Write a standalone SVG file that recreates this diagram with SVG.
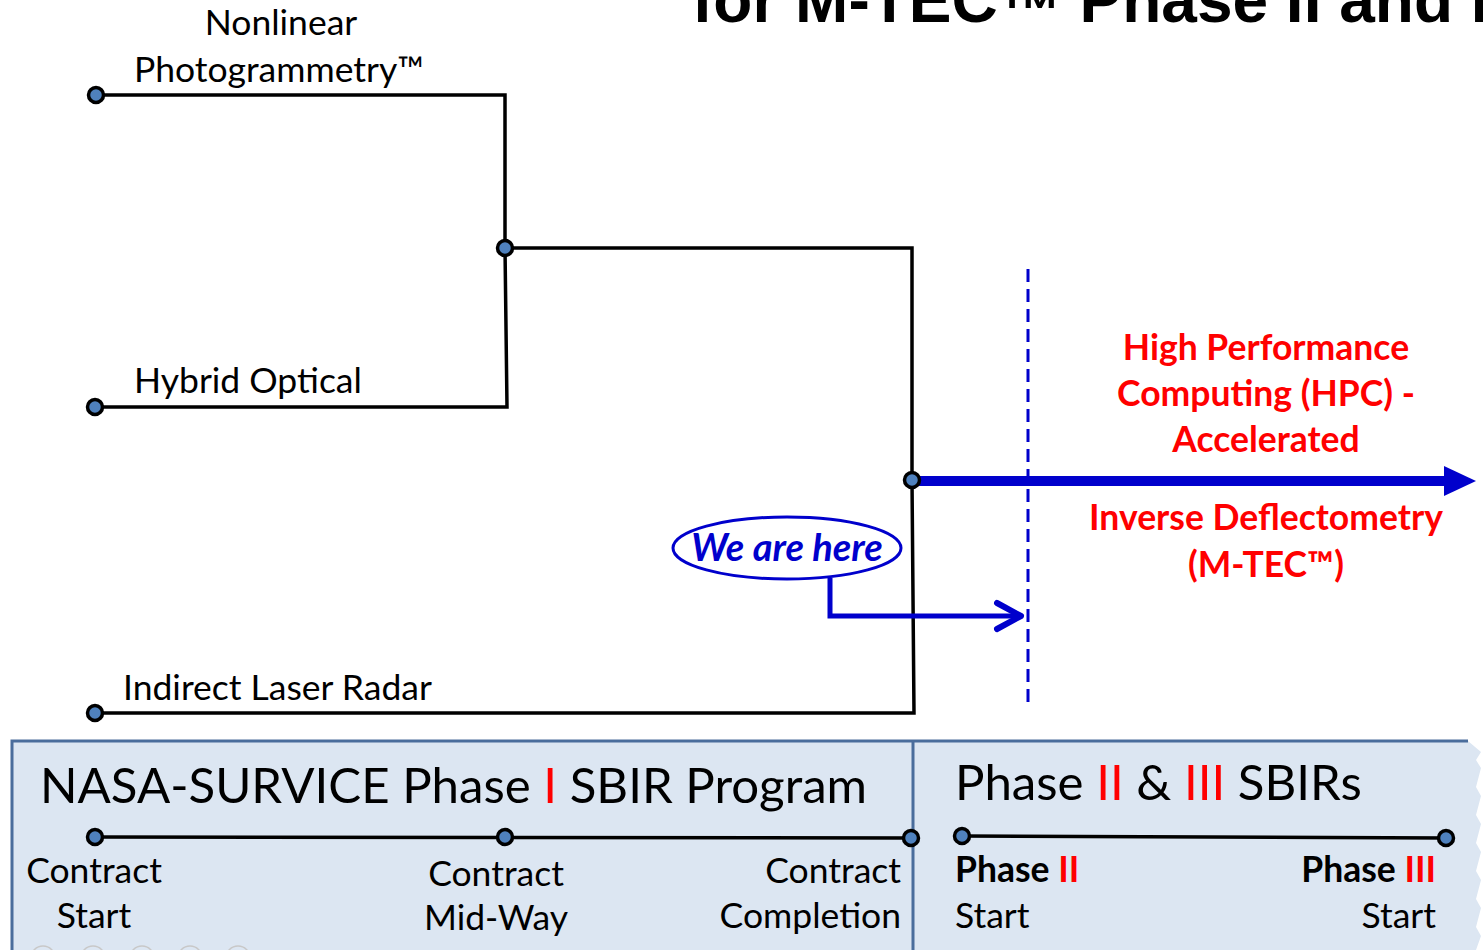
<svg xmlns="http://www.w3.org/2000/svg" width="1483" height="950" viewBox="0 0 1483 950">
<style>
.lbl{font-family:Lato,"Open Sans","Liberation Sans",sans-serif;font-size:35.5px;fill:#000}
.big{font-family:Lato,"Open Sans","Liberation Sans",sans-serif;font-size:49.2px;fill:#000}
.red{font-family:Lato,"Open Sans","Liberation Sans",sans-serif;font-size:35.5px;font-weight:bold;fill:#ff0000}
.rd{fill:#ff0000}
.bold{font-weight:bold}
.wire{fill:none;stroke:#000;stroke-width:3.5;stroke-linejoin:miter}
.dot{fill:#4f81bd;stroke:#000;stroke-width:3.5}
.blue{fill:none;stroke:#0000cc}
</style>
<defs>
<marker id="tri" markerUnits="userSpaceOnUse" viewBox="0 0 32 30" refX="2" refY="15" markerWidth="32" markerHeight="30" orient="auto">
<path d="M0,0 L32,15 L0,30 Z" fill="#0000cc"/>
</marker>
</defs>
<rect width="1483" height="950" fill="#fff"/>
<text x="692" y="22" font-family="'Liberation Sans',Arial,sans-serif" font-weight="bold" font-size="64" fill="#000">for M-TEC<tspan dy="10">™</tspan><tspan dy="-10"> Phase II and I</tspan></text>

<g id="connectors">
<path class="wire" d="M96,95 H505 V248 M505,248 L507,407 H95"/>
<path class="wire" d="M505,248 H912 V480 M912,480 L914,713 H95"/>
<line x1="912" y1="481" x2="1446" y2="481" stroke="#0000cc" stroke-width="10" marker-end="url(#tri)"/>
<line x1="1028" y1="269" x2="1028" y2="708" stroke="#0000cc" stroke-width="3" stroke-dasharray="13,7"/>
<path class="blue" stroke-width="5" d="M830,578 V616 H1020"/>
<path class="blue" stroke-width="6" stroke-linecap="round" stroke-linejoin="round" d="M997,603 L1021,616 L997,629"/>
</g>

<g id="node-nonlinear">
<circle class="dot" cx="96" cy="95" r="7.5"/>
<text class="lbl" x="281" y="35" text-anchor="middle">Nonlinear</text>
<text class="lbl" x="134" y="82">Photogrammetry™</text>
</g>
<g id="node-hybrid">
<circle class="dot" cx="95" cy="407" r="7.5"/>
<text class="lbl" x="134" y="393">Hybrid Optical</text>
</g>
<g id="node-laser">
<circle class="dot" cx="95" cy="713" r="7.5"/>
<text class="lbl" x="123" y="700">Indirect Laser Radar</text>
</g>
<g id="node-merge1">
<circle class="dot" cx="505" cy="248" r="7.5"/>
</g>
<g id="node-merge2">
<circle class="dot" cx="912" cy="480" r="7.5"/>
</g>
<g id="node-hpc">
<text class="red" x="1266" y="360" text-anchor="middle">High Performance</text>
<text class="red" x="1266" y="406" text-anchor="middle">Computing (HPC) -</text>
<text class="red" x="1266" y="452" text-anchor="middle">Accelerated</text>
<text class="red" x="1266" y="530" text-anchor="middle">Inverse Deflectometry</text>
<text class="red" x="1266" y="577" text-anchor="middle">(M-TEC™)</text>
</g>
<g id="node-we-are-here">
<ellipse cx="787" cy="548" rx="114" ry="31" fill="#fff" stroke="#0000cc" stroke-width="3"/>
<text x="787" y="561" text-anchor="middle" font-family="Lato,'Open Sans',sans-serif" font-size="38" font-weight="bold" font-style="italic" fill="#0000cc">We are here</text>
</g>

<g id="timeline-box">
<path d="M12,741 H1468 L1481,752 L1476,760 L1481,768 L1476,787 L1481,796 L1476,815 L1481,824 L1476,843 L1481,852 L1476,871 L1481,880 L1476,899 L1481,908 L1476,927 L1481,936 L1476,950 H12 Z" fill="#dce6f2"/>
<path d="M12,950 V741 H1468" fill="none" stroke="#4a6d9c" stroke-width="3"/>
<line x1="913" y1="741" x2="913" y2="950" stroke="#4a6d9c" stroke-width="3"/>
<g fill="none" stroke="#c8c8c8" stroke-width="1.5">
<circle cx="43" cy="958" r="12"/><circle cx="93" cy="958" r="12"/><circle cx="142" cy="958" r="12"/><circle cx="190" cy="958" r="12"/><circle cx="238" cy="958" r="12"/>
</g>
</g>
<g id="phase1">
<text class="big" x="40" y="803">NASA-SURVICE Phase <tspan class="rd">I</tspan> SBIR Program</text>
<line x1="95" y1="837" x2="911" y2="838" stroke="#000" stroke-width="3.5"/>
<circle class="dot" cx="95" cy="837" r="7.5"/>
<circle class="dot" cx="505" cy="837" r="7.5"/>
<circle class="dot" cx="911" cy="838" r="7.5"/>
<text class="lbl" x="94" y="883" text-anchor="middle">Contract</text>
<text class="lbl" x="94" y="928" text-anchor="middle">Start</text>
<text class="lbl" x="496" y="886" text-anchor="middle">Contract</text>
<text class="lbl" x="496" y="930" text-anchor="middle">Mid-Way</text>
<text class="lbl" x="901" y="883" text-anchor="end">Contract</text>
<text class="lbl" x="901" y="928" text-anchor="end">Completion</text>
</g>
<g id="phase23">
<text class="big" x="955" y="800">Phase <tspan class="rd">II</tspan> &amp; <tspan class="rd">III</tspan> SBIRs</text>
<line x1="962" y1="836" x2="1446" y2="838" stroke="#000" stroke-width="3.5"/>
<circle class="dot" cx="962" cy="836" r="7.5"/>
<circle class="dot" cx="1446" cy="838" r="7.5"/>
<text class="lbl bold" x="955" y="882">Phase <tspan class="rd">II</tspan></text>
<text class="lbl" x="955" y="928">Start</text>
<text class="lbl bold" x="1436" y="882" text-anchor="end">Phase <tspan class="rd">III</tspan></text>
<text class="lbl" x="1436" y="928" text-anchor="end">Start</text>
</g>
</svg>
